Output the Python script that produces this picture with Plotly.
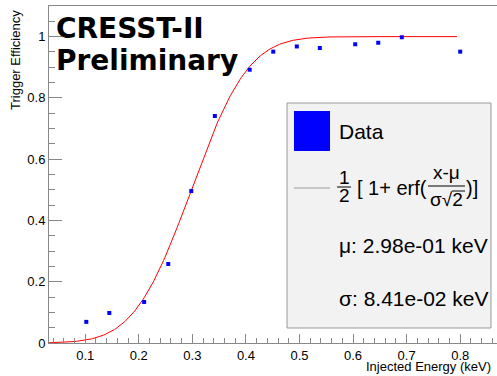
import math
import plotly.graph_objects as go

# ---- data ----
energy = [0.102, 0.145, 0.210, 0.255, 0.298, 0.342, 0.407, 0.451, 0.495, 0.538, 0.604, 0.647, 0.691, 0.800]
efficiency = [0.069, 0.098, 0.134, 0.258, 0.496, 0.741, 0.892, 0.951, 0.968, 0.963, 0.975, 0.980, 0.998, 0.951]
mu = 0.298
sigma = 0.0841
fit_x_min = 0.0324
fit_x_max = 0.794
y_ticks = [0, 0.2, 0.4, 0.6, 0.8, 1]
x_ticks = [0.1, 0.2, 0.3, 0.4, 0.5, 0.6, 0.7, 0.8]

# fit curve from fitted parameters
n = 300
fit_x = [fit_x_min + (fit_x_max - fit_x_min) * i / (n - 1) for i in range(n)]
fit_y = [0.5 * (1 + math.erf((x - mu) / (sigma * math.sqrt(2)))) for x in fit_x]

W, H = 497, 376
L, R, T, B = 49, 0, 6, 33
PW = W - L - R
PH = H - T - B


def px(x):
    return (x - L) / PW


def py(y):
    return (H - B - y) / PH


fig = go.Figure()
fig.add_trace(go.Scatter(x=fit_x, y=fit_y, mode="lines",
                         line=dict(color="#ff0000", width=1), hoverinfo="skip"))
fig.add_trace(go.Scatter(x=energy, y=efficiency, mode="markers",
                         marker=dict(symbol="square", size=4, color="#0000ff", line=dict(width=0))))

axis_col = "#888888"
fig.update_layout(
    width=W, height=H,
    margin=dict(l=L, r=R, t=T, b=B, autoexpand=False),
    paper_bgcolor="white", plot_bgcolor="white",
    showlegend=False,
    font=dict(family="Liberation Sans, Arial, sans-serif", color="black"),
    xaxis=dict(range=[0.0324, 0.8687], tickvals=x_ticks, ticktext=[str(v) for v in x_ticks],
               ticks="inside", ticklen=9, tickcolor=axis_col, showgrid=False, zeroline=False,
               showline=True, linecolor=axis_col, linewidth=1, mirror=True, automargin=False,
               tickfont=dict(size=13),
               minor=dict(dtick=0.02, tick0=0, ticks="inside", ticklen=5, tickcolor=axis_col, showgrid=False)),
    yaxis=dict(range=[0, 1.1], tickvals=y_ticks, ticktext=["0", "0.2", "0.4", "0.6", "0.8", "1"],
               ticks="inside", ticklen=13, tickcolor=axis_col, showgrid=False, zeroline=False,
               showline=True, linecolor=axis_col, linewidth=1, automargin=False,
               tickfont=dict(size=13),
               minor=dict(dtick=0.05, tick0=0, ticks="inside", ticklen=6, tickcolor=axis_col, showgrid=False)),
)

shapes = []
# legend box
shapes.append(dict(type="rect", xref="paper", yref="paper", x0=px(287), x1=px(491), y0=py(328), y1=py(103),
                   fillcolor="#f2f2f2", line=dict(color="#999999", width=1), layer="above"))
shapes.append(dict(type="rect", xref="paper", yref="paper", x0=px(294), x1=px(330), y0=py(151), y1=py(111),
                   fillcolor="#0000ff", line=dict(width=0), layer="above"))
shapes.append(dict(type="line", xref="paper", yref="paper", x0=px(294), x1=px(330), y0=py(188), y1=py(188),
                   line=dict(color="#999999", width=1), layer="above"))
# fraction bars
shapes.append(dict(type="line", xref="paper", yref="paper", x0=px(337), x1=px(351), y0=py(187), y1=py(187),
                   line=dict(color="black", width=1), layer="above"))
shapes.append(dict(type="line", xref="paper", yref="paper", x0=px(428), x1=px(465), y0=py(186), y1=py(186),
                   line=dict(color="black", width=1), layer="above"))
# sqrt overline
shapes.append(dict(type="line", xref="paper", yref="paper", x0=px(452), x1=px(465), y0=py(191), y1=py(191),
                   line=dict(color="black", width=1), layer="above"))
fig.update_layout(shapes=shapes)

anns = []


def ann(text, x, y, size, xanchor="left", yanchor="middle", **kw):
    anns.append(dict(text=text, xref="paper", yref="paper", x=px(x), y=py(y), xanchor=xanchor,
                     yanchor=yanchor, showarrow=False, font=dict(size=size, **kw.pop("font", {})), **kw))


ann("<b>CRESST-II</b>", 54, 28, 28, font=dict(family="DejaVu Sans"))
ann("<b>Preliminary</b>", 54, 61, 28, font=dict(family="DejaVu Sans"))
ann("Data", 337, 131, 21)
ann("1", 344, 177, 19, xanchor="center")
ann("2", 344, 196, 19, xanchor="center")
ann("[ 1+ erf(", 355, 188, 20)
ann("x-μ", 446.5, 172, 19, xanchor="center")
ann("σ√2", 446.5, 199, 19, xanchor="center")
ann(")]", 464, 188, 20)
ann("μ: 2.98e-01 keV", 337, 246, 21)
ann("σ: 8.41e-02 keV", 337, 298, 21)
ann("Injected Energy (keV)", 493, 366, 13, xanchor="right")
ann("Trigger Efficiency", 16, 8, 13, xanchor="center", yanchor="top", textangle=-90)
fig.update_layout(annotations=anns)

fig.write_html("out.html", config={"displayModeBar": False},
               post_script="document.body.style.margin='0';document.body.style.overflow='hidden';")
